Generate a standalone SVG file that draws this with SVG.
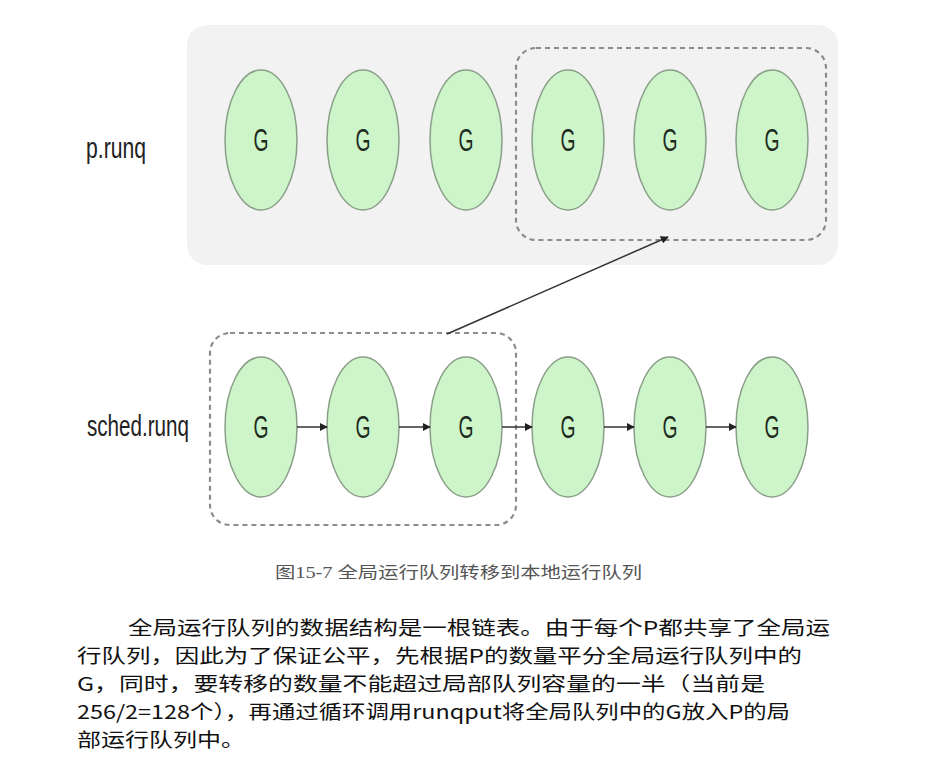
<svg xmlns="http://www.w3.org/2000/svg" width="927" height="783" viewBox="0 0 927 783">
<defs>
<marker id="ah" viewBox="0 0 10 10" refX="9" refY="5" markerWidth="8" markerHeight="8" orient="auto" markerUnits="userSpaceOnUse">
<path d="M0,0 L10,5 L0,10 z" fill="#222"/>
</marker>
<style>
.g ellipse{fill:#cdf5c9;stroke:#8a9f88;stroke-width:1.5}
.g text{font-family:"Liberation Sans",Arial,sans-serif;font-size:31px;fill:#1e2a1e;text-anchor:middle}
.dash{fill:none;stroke:#8c8c8c;stroke-width:2.2;stroke-dasharray:5 4}
.lbl{font-family:"Liberation Sans",Arial,sans-serif;font-size:30px;fill:#222}
.cap{font-family:"Liberation Serif","Noto Sans CJK SC",serif;font-size:16px;fill:#555}
.body{font-family:"Noto Sans CJK SC",sans-serif;font-size:19.2px;fill:#111}
.conn line{stroke:#333;stroke-width:1.5}
</style>
</defs>
<rect width="927" height="783" fill="#fff"/>
<g id="panel"><rect x="187" y="25" width="651" height="240" rx="20" fill="#f2f2f2"/></g>
<g id="label-prunq"><text class="lbl" x="86" y="158" textLength="60" lengthAdjust="spacingAndGlyphs">p.runq</text></g>
<g id="label-schedrunq"><text class="lbl" x="87" y="436" textLength="102" lengthAdjust="spacingAndGlyphs">sched.runq</text></g>
<g id="local-group"><rect class="dash" x="516" y="48" width="310" height="192" rx="20"/></g>
<g id="global-group"><rect class="dash" x="210" y="333" width="306" height="192" rx="20"/></g>
<g id="p1" class="g"><ellipse cx="261" cy="140" rx="36" ry="70"/><text x="261" y="151" textLength="15" lengthAdjust="spacingAndGlyphs">G</text></g>
<g id="p2" class="g"><ellipse cx="363" cy="140" rx="36" ry="70"/><text x="363" y="151" textLength="15" lengthAdjust="spacingAndGlyphs">G</text></g>
<g id="p3" class="g"><ellipse cx="466" cy="140" rx="36" ry="70"/><text x="466" y="151" textLength="15" lengthAdjust="spacingAndGlyphs">G</text></g>
<g id="p4" class="g"><ellipse cx="568" cy="140" rx="36" ry="70"/><text x="568" y="151" textLength="15" lengthAdjust="spacingAndGlyphs">G</text></g>
<g id="p5" class="g"><ellipse cx="670" cy="140" rx="36" ry="70"/><text x="670" y="151" textLength="15" lengthAdjust="spacingAndGlyphs">G</text></g>
<g id="p6" class="g"><ellipse cx="772" cy="140" rx="36" ry="70"/><text x="772" y="151" textLength="15" lengthAdjust="spacingAndGlyphs">G</text></g>
<g id="s1" class="g"><ellipse cx="261" cy="427" rx="36" ry="70"/><text x="261" y="438" textLength="15" lengthAdjust="spacingAndGlyphs">G</text></g>
<g id="s2" class="g"><ellipse cx="363" cy="427" rx="36" ry="70"/><text x="363" y="438" textLength="15" lengthAdjust="spacingAndGlyphs">G</text></g>
<g id="s3" class="g"><ellipse cx="466" cy="427" rx="36" ry="70"/><text x="466" y="438" textLength="15" lengthAdjust="spacingAndGlyphs">G</text></g>
<g id="s4" class="g"><ellipse cx="568" cy="427" rx="36" ry="70"/><text x="568" y="438" textLength="15" lengthAdjust="spacingAndGlyphs">G</text></g>
<g id="s5" class="g"><ellipse cx="670" cy="427" rx="36" ry="70"/><text x="670" y="438" textLength="15" lengthAdjust="spacingAndGlyphs">G</text></g>
<g id="s6" class="g"><ellipse cx="772" cy="427" rx="36" ry="70"/><text x="772" y="438" textLength="15" lengthAdjust="spacingAndGlyphs">G</text></g>
<g id="connectors" class="conn">
<line x1="297" y1="427" x2="327" y2="427" marker-end="url(#ah)"/>
<line x1="399" y1="427" x2="430" y2="427" marker-end="url(#ah)"/>
<line x1="502" y1="427" x2="532" y2="427" marker-end="url(#ah)"/>
<line x1="604" y1="427" x2="634" y2="427" marker-end="url(#ah)"/>
<line x1="706" y1="427" x2="736" y2="427" marker-end="url(#ah)"/>
<line x1="447" y1="334" x2="668" y2="237" stroke="#808080" marker-end="url(#ah)"/>
</g>
<g id="caption"><text class="cap" x="275" y="578" textLength="367" lengthAdjust="spacingAndGlyphs">图15-7 全局运行队列转移到本地运行队列</text></g>
<g id="body">
<text class="body" x="128" y="635" textLength="702" lengthAdjust="spacingAndGlyphs">全局运行队列的数据结构是一根链表。由于每个P都共享了全局运</text>
<text class="body" x="77" y="663" textLength="725" lengthAdjust="spacingAndGlyphs">行队列，因此为了保证公平，先根据P的数量平分全局运行队列中的</text>
<text class="body" x="77" y="691" textLength="688" lengthAdjust="spacingAndGlyphs">G，同时，要转移的数量不能超过局部队列容量的一半（当前是</text>
<text class="body" x="77" y="719" textLength="713" lengthAdjust="spacingAndGlyphs">256/2=128个），再通过循环调用runqput将全局队列中的G放入P的局</text>
<text class="body" x="77" y="747" textLength="168" lengthAdjust="spacingAndGlyphs">部运行队列中。</text>
</g>
</svg>
